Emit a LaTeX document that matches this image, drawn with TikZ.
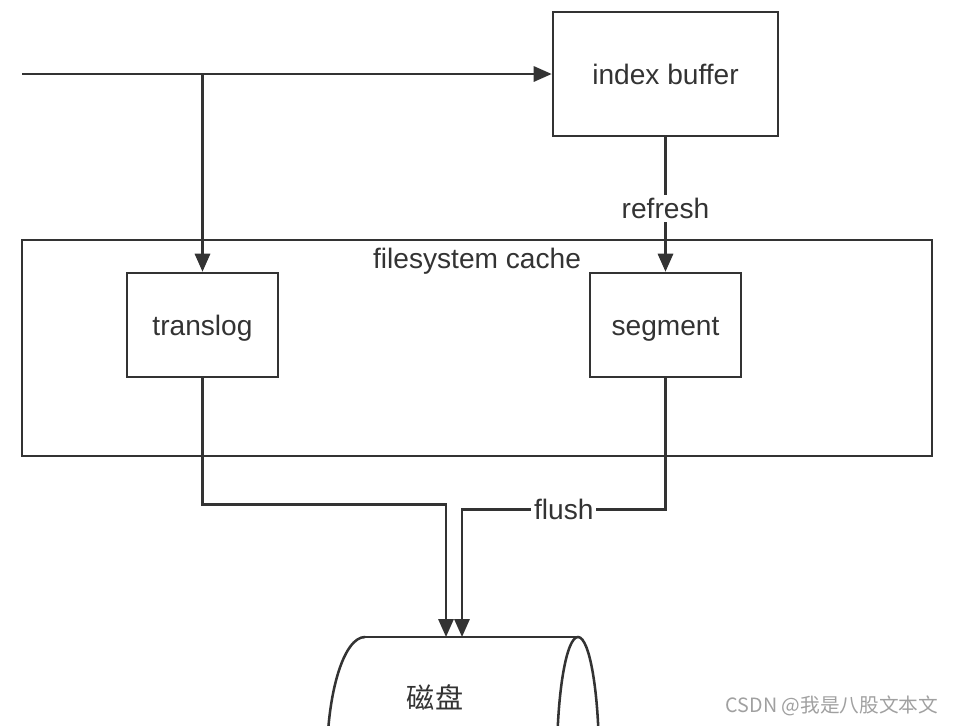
\documentclass[tikz,border=0pt]{standalone}
\usepackage{fontspec}
\setmainfont{Liberation Sans}
\newfontfamily\cjk{Noto Sans CJK SC}
\usetikzlibrary{arrows.meta}
\usetikzlibrary{positioning}
\definecolor{ink}{HTML}{333333}
\definecolor{faint}{HTML}{A0A0A0}
\tikzset{
  box/.style={draw=ink, line width=1.8pt, text=ink, font=\fontsize{20}{24}\selectfont,
    text height=18.5pt, text depth=4pt},
  line/.style={draw=ink, line width=1.8pt},
  arr/.style={line, -{Triangle[length=0.45cm,width=0.38cm]}},
  lbl/.style={text=ink, font=\fontsize{20}{24}\selectfont, fill=white, inner sep=2pt},
}

\begin{document}
\begin{tikzpicture}[x=0.025cm, y=-0.025cm]
  \clip (0,0) rectangle (953,725);
  \node[box, minimum width=5.625cm, minimum height=3.1cm] (buffer) at (665.5,74) {index buffer};
  \node[box, minimum width=22.75cm, minimum height=5.4cm] (cache) at (477,348) {};
  \node[text=ink, font=\fontsize{20}{24}\selectfont, below=0.1cm of cache.north] (cachetext) {filesystem cache};
  \node[box, minimum width=3.775cm, minimum height=2.6cm] (translog) at (202.5,325) {translog};
  \node[box, minimum width=3.775cm, minimum height=2.6cm] (segment) at (665.5,325) {segment};

  \draw[line] (365,637) -- (578,637);
  \draw[line] (578,760) ellipse [x radius=21, y radius=123];
  \begin{scope}
    \clip (300,600) rectangle (365,900);
    \draw[line] (365,760) ellipse [x radius=38, y radius=123];
  \end{scope}
  \node[text=ink, font=\cjk\fontsize{20}{24}\selectfont] (disk) at (435,697) {磁盘};
  \coordinate (disk1) at (446,637);
  \coordinate (disk2) at (462,637);
  \coordinate (in) at (22,74);

  \draw[arr] (in) -- (buffer);
  \draw[arr] (translog.north |- in) -- (translog);
  \draw[arr] (buffer) -- node[lbl, pos=0.53] {refresh} (segment);
  \draw[arr] (translog.south) -- ++(0,126) -| (disk1);
  \draw[arr] (segment.south) -- ++(0,131) -| node[lbl, pos=0.25] {flush} (disk2);

  \node[text=faint, font=\cjk\fontsize{14}{16}\selectfont] (credit) at (832,706) {CSDN @我是八股文本文};
\end{tikzpicture}
\end{document}
